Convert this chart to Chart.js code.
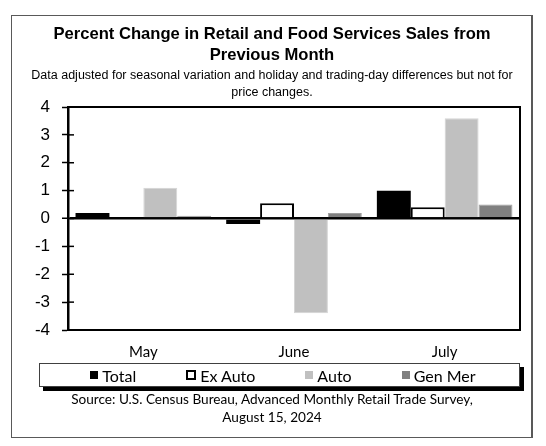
<!DOCTYPE html>
<html>
<head>
<meta charset="utf-8">
<script src="https://cdn.jsdelivr.net/npm/chart.js@4.4.0/dist/chart.umd.min.js"></script>
<style>
  html, body { margin: 0; padding: 0; background: #fff; }
  #wrap { position: relative; width: 546px; height: 446px; overflow: hidden; }
  #frame {
    position: absolute; left: 11px; top: 15px; width: 519px; height: 421px;
    border: 1px solid #595959; border-right-width: 2px; box-sizing: content-box;
  }
  canvas { position: absolute; left: 0; top: 0; }
  #legend {
    position: absolute; left: 39px; top: 363px; width: 472px; height: 22px;
    border: 1px solid #404040; background: #fff; box-shadow: 4px 4px 0 #000;
    display: flex; justify-content: center; align-items: center; gap: 50px;
    padding-left: 7px; box-sizing: content-box;
    font-family: Lato, "Open Sans", sans-serif; font-size: 16px; color: #000;
  }
  #legend .item { display: flex; align-items: center; white-space: nowrap; }
  #legend .sw { display: inline-block; margin-right: 4px; box-sizing: border-box; }
  #source {
    position: absolute; left: 11px; top: 390px; width: 522px; text-align: center;
    font-family: Lato, "Open Sans", sans-serif; font-size: 13.6px; line-height: 18px; color: #000;
  }
</style>
</head>
<body>
<div id="wrap">
  <div id="frame"></div>
  <canvas id="retail-chart" width="546" height="446"></canvas>
  <div id="legend"></div>
  <div id="source">Source: U.S. Census Bureau, Advanced Monthly Retail Trade Survey,<br>August 15, 2024</div>
</div>
<script>
const months = ["May", "June", "July"];
const totalSales = [0.2, -0.2, 1.0];
const exAutoSales = [0.05, 0.55, 0.4];
const autoSales = [1.1, -3.4, 3.6];
const genMerSales = [0.1, 0.2, 0.5];
const yTicks = [-4, -3, -2, -1, 0, 1, 2, 3, 4];

const canvas = document.querySelector("#retail-chart");
const legendBox = document.querySelector("#legend");

// draws the plot frame and the small inner tick stubs
const plotFrame = {
  id: "plotFrame",
  afterDraw(chart) {
    const { ctx, chartArea } = chart;
    const y = chart.scales.y;
    ctx.save();
    ctx.strokeStyle = "#000";
    ctx.lineWidth = 2;
    ctx.strokeRect(chartArea.left, chartArea.top, chartArea.right - chartArea.left, chartArea.bottom - chartArea.top);
    ctx.lineWidth = 1.5;
    y.ticks.forEach((t) => {
      const py = y.getPixelForValue(t.value);
      ctx.beginPath();
      ctx.moveTo(chartArea.left, py);
      ctx.lineTo(chartArea.left + 6, py);
      ctx.stroke();
    });
    ctx.restore();
  },
};

// html legend built from the datasets
const htmlLegend = {
  id: "htmlLegend",
  afterUpdate(chart) {
    legendBox.innerHTML = "";
    chart.data.datasets.forEach((ds) => {
      const item = document.createElement("span");
      item.className = "item";
      const sw = document.createElement("span");
      sw.className = "sw";
      const outlined = ds.borderColor === "#000000";
      sw.style.width = outlined ? "10px" : "8px";
      sw.style.height = outlined ? "10px" : "8px";
      sw.style.background = ds.backgroundColor;
      if (outlined) sw.style.border = "2px solid #000";
      item.appendChild(sw);
      item.appendChild(document.createTextNode(ds.label));
      legendBox.appendChild(item);
    });
  },
};

const options = {
  type: "bar",
  data: {
    labels: months,
    datasets: [
      { label: "Total", data: totalSales, backgroundColor: "#000000", borderWidth: 0 },
      { label: "Ex Auto", data: exAutoSales, backgroundColor: "#ffffff", borderColor: "#000000", borderWidth: 2 },
      { label: "Auto", data: autoSales, backgroundColor: "#c0c0c0", borderColor: "#d4d4d4", borderWidth: 1 },
      { label: "Gen Mer", data: genMerSales, backgroundColor: "#808080", borderColor: "#a0a0a0", borderWidth: 1 },
    ],
  },
  options: {
    responsive: false,
    animation: false,
    datasets: { bar: { categoryPercentage: 0.9, barPercentage: 1.0 } },
    layout: { padding: { top: 15, left: 24, right: 26, bottom: 86 } },
    plugins: {
      legend: { display: false },
      tooltip: { enabled: false },
      title: {
        display: true,
        text: ["Percent Change in Retail and Food Services Sales from", "Previous Month"],
        color: "#000",
        font: { family: "'Liberation Sans', Arial, sans-serif", size: 16.6, weight: "bold", lineHeight: "21.5px" },
        padding: { top: 8.5, bottom: 0 },
      },
      subtitle: {
        display: true,
        text: ["Data adjusted for seasonal variation and holiday and trading-day differences but not for", "price changes."],
        color: "#000",
        font: { family: "'Liberation Sans', Arial, sans-serif", size: 12.5, lineHeight: "17.5px" },
        padding: { top: 0, bottom: 5.5 },
      },
    },
    scales: {
      x: {
        grid: { display: false },
        border: { display: true, color: "#000", width: 2 },
        ticks: { color: "#000", padding: 5, font: { family: "Lato, sans-serif", size: 15 } },
        afterFit(scale) { scale.height = 30; },
      },
      y: {
        min: -4,
        max: 4,
        afterBuildTicks(scale) { scale.ticks = yTicks.map((v) => ({ value: v })); },
        grid: {
          drawOnChartArea: true,
          color: (c) => (c.tick && c.tick.value === 0 ? "#000" : "rgba(0,0,0,0)"),
          lineWidth: (c) => (c.tick && c.tick.value === 0 ? 2.5 : 1),
          tickColor: "#000",
          tickWidth: 1.5,
          tickLength: 6,
        },
        border: { display: true, color: "#000", width: 2.5 },
        ticks: { color: "#000", padding: 12, font: { family: "'Liberation Sans', Arial, sans-serif", size: 17 } },
        afterFit(scale) { scale.width = 44; },
      },
    },
  },
  plugins: [plotFrame, htmlLegend],
};

const retailChart = new Chart(canvas, options);
</script>
</body>
</html>
